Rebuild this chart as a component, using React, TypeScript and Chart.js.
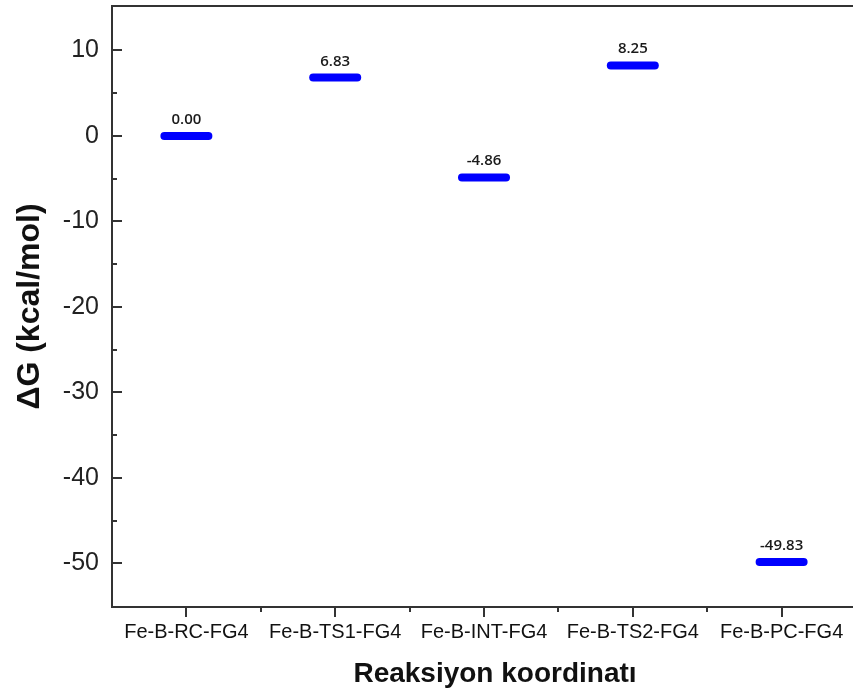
import React, { useEffect, useRef } from "react";
import { Chart, registerables } from "chart.js";
Chart.register(...registerables);

const categories = ["Fe-B-RC-FG4", "Fe-B-TS1-FG4", "Fe-B-INT-FG4", "Fe-B-TS2-FG4", "Fe-B-PC-FG4"];
const energies = [0.0, 6.83, -4.86, 8.25, -49.83];
const yMajorTicks = [10, 0, -10, -20, -30, -40, -50];
const yMinorTicks = [5, -5, -15, -25, -35, -45];
const yMin = -55.1;
const yMax = 15.2;
const xTitle = "Reaksiyon koordinatı";
const yTitle = "ΔG (kcal/mol)";

const AXIS = "#333333";

const framePlugin = {
  id: "frame",
  beforeDatasetsDraw(chart: any) {
    chart.ctx.save();
    chart.ctx.lineCap = "round";
  },
  afterDatasetsDraw(chart: any) {
    const ctx = chart.ctx;
    ctx.restore();
    const meta = chart.getDatasetMeta(0);
    ctx.save();
    ctx.font = "600 15px 'Open Sans'";
    ctx.fillStyle = "#1a1a1a";
    ctx.textAlign = "center";
    ctx.textBaseline = "alphabetic";
    meta.data.forEach((pt: any, i: number) => {
      ctx.fillText(energies[i].toFixed(2), pt.x, pt.y - 12);
    });
    ctx.restore();
  },
  afterDraw(chart: any) {
    const ctx = chart.ctx;
    const { left, right, top, bottom } = chart.chartArea;
    const ys = chart.scales.y;
    const xs = chart.scales.x;
    ctx.save();
    ctx.strokeStyle = AXIS;
    ctx.lineWidth = 2;
    ctx.lineCap = "butt";
    ctx.beginPath();
    ctx.moveTo(left, top - 1);
    ctx.lineTo(left, bottom + 1);
    ctx.moveTo(left - 1, bottom);
    ctx.lineTo(right + 20, bottom);
    ctx.moveTo(left - 1, top);
    ctx.lineTo(right + 20, top);
    yMajorTicks.forEach((v) => {
      const y = Math.round(ys.getPixelForValue(v));
      ctx.moveTo(left, y);
      ctx.lineTo(left + 10, y);
    });
    yMinorTicks.forEach((v) => {
      const y = Math.round(ys.getPixelForValue(v));
      ctx.moveTo(left, y);
      ctx.lineTo(left + 5, y);
    });
    categories.forEach((_, i) => {
      const x = Math.round(xs.getPixelForValue(i));
      ctx.moveTo(x, bottom);
      ctx.lineTo(x, bottom + 10);
    });
    for (let i = 1; i < categories.length; i++) {
      const x = Math.round((xs.getPixelForValue(i - 1) + xs.getPixelForValue(i)) / 2);
      ctx.moveTo(x, bottom);
      ctx.lineTo(x, bottom + 5);
    }
    ctx.stroke();

    ctx.fillStyle = "#111111";
    ctx.textAlign = "center";
    ctx.textBaseline = "middle";
    ctx.font = "bold 28px Arial";
    ctx.fillText(xTitle, 495, 674);
    ctx.translate(30, (top + bottom) / 2);
    ctx.rotate(-Math.PI / 2);
    ctx.font = "bold 32px Arial";
    ctx.fillText(yTitle, 0, 0);
    ctx.restore();
  },
};

export default function App() {
  const ref = useRef<HTMLCanvasElement>(null);
  useEffect(() => {
    document.body.style.margin = "0";
    const chart = new Chart(ref.current!, {
      type: "line",
      data: {
        labels: categories,
        datasets: [
          {
            data: energies,
            showLine: false,
            pointStyle: "line",
            pointRadius: 22,
            pointHoverRadius: 22,
            pointBorderWidth: 8,
            pointHoverBorderWidth: 8,
            borderColor: "#0000ff",
            backgroundColor: "#0000ff",
            pointBorderColor: "#0000ff",
          },
        ],
      },
      options: {
        animation: false,
        responsive: false,
        events: [],
        layout: { autoPadding: false, padding: { top: 6, right: 14, left: 0, bottom: 0 } },
        plugins: { legend: { display: false }, tooltip: { enabled: false } },
        scales: {
          x: {
            type: "category",
            offset: true,
            grid: { display: false, drawTicks: false },
            border: { display: false },
            ticks: { font: { family: "Arial", size: 20 }, color: "#111111", padding: 13, maxRotation: 0, autoSkip: false },
            afterFit(scale: any) {
              scale.height = 90;
              scale.paddingLeft = 0;
              scale.paddingRight = 0;
            },
          },
          y: {
            type: "linear",
            min: yMin,
            max: yMax,
            grid: { display: false, drawTicks: false },
            border: { display: false },
            ticks: { font: { family: "Arial", size: 25 }, color: "#222222", padding: 13 },
            afterBuildTicks(scale: any) {
              scale.ticks = yMajorTicks.map((v) => ({ value: v }));
            },
            afterFit(scale: any) {
              scale.width = 112;
              scale.paddingTop = 0;
              scale.paddingBottom = 0;
            },
          },
        },
      },
      plugins: [framePlugin],
    });
    return () => chart.destroy();
  }, []);
  return (
    <div style={{ position: "fixed", left: 0, top: 0, width: 853, height: 697, overflow: "hidden", background: "#fff" }}>
      <canvas ref={ref} width={870} height={697} style={{ width: 870, height: 697 }} />
    </div>
  );
}
